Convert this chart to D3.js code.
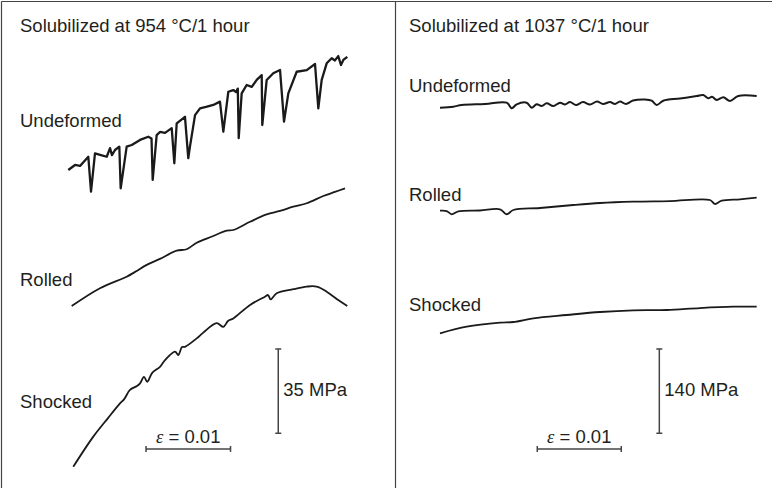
<!DOCTYPE html>
<html>
<head>
<meta charset="utf-8">
<script src="https://cdn.jsdelivr.net/npm/d3@7"></script>
<style>
  body { margin: 0; background: #fff; }
  text { font-family: "Liberation Sans", Arial, sans-serif; fill: #231f20; }
</style>
</head>
<body>
<div id="chart"></div>
<script>
// strain in %, stress in MPa (curves are offset vertically, as in the figure)
let left954Undeformed = [[0.098,128.7],[0.178,130.8],[0.237,130.4],[0.335,134.2],[0.367,119.7],[0.414,135.6],[0.485,134.9],[0.553,134.2],[0.592,137.8],[0.615,134.9],[0.651,137.0],[0.702,138.4],[0.718,121.1],[0.789,138.4],[0.849,139.1],[0.947,141.2],[1.045,142.5],[1.083,141.8],[1.097,124.6],[1.144,143.2],[1.183,144.5],[1.243,144.1],[1.322,146.1],[1.353,131.5],[1.381,148.1],[1.479,150.8],[1.518,133.6],[1.538,138.4],[1.598,151.5],[1.657,154.3],[1.728,154.9],[1.814,155.7],[1.893,157.1],[1.933,144.6],[1.992,161.2],[2.051,161.9],[2.083,161.1],[2.104,162.5],[2.115,141.9],[2.150,160.5],[2.209,164.0],[2.269,163.2],[2.328,166.1],[2.387,168.1],[2.394,147.4],[2.446,166.1],[2.524,168.9],[2.604,170.2],[2.651,148.8],[2.702,160.5],[2.801,169.5],[2.920,170.2],[3.018,172.7],[3.057,154.3],[3.097,166.1],[3.156,173.0],[3.215,175.1],[3.254,174.2],[3.293,176.0],[3.325,172.3],[3.353,174.4],[3.400,175.7]];
let left954Rolled = [[0.138,72.2],[0.473,79.6],[0.789,84.4],[0.888,86.4],[1.026,89.3],[1.183,91.8],[1.381,95.2],[1.499,95.8],[1.618,98.5],[1.799,101.1],[1.973,103.5],[2.051,103.8],[2.249,107.2],[2.446,110.3],[2.604,111.7],[2.761,113.5],[2.920,114.9],[3.116,117.9],[3.254,119.6],[3.373,121.1]];
let left954Shocked = [[0.157,5.5],[0.394,18.0],[0.568,25.7],[0.710,31.8],[0.760,33.6],[0.828,37.4],[0.911,39.0],[0.947,40.1],[0.994,42.8],[1.033,40.8],[1.089,44.4],[1.183,47.0],[1.243,49.8],[1.361,53.3],[1.400,51.9],[1.444,55.2],[1.479,55.3],[1.618,58.8],[1.696,61.2],[1.854,65.1],[1.933,63.6],[1.988,66.0],[2.051,67.1],[2.249,72.7],[2.426,76.1],[2.462,76.8],[2.493,75.0],[2.564,77.5],[2.761,79.2],[2.920,80.3],[3.038,80.3],[3.156,78.2],[3.293,74.7],[3.400,72.2]];

let right1037Undeformed = [[0.119,618.3],[0.277,620.0],[0.377,622.8],[0.655,624.4],[0.913,626.6],[0.973,617.3],[1.032,623.9],[1.151,626.6],[1.211,618.3],[1.270,623.9],[1.330,621.1],[1.389,625.6],[1.468,621.1],[1.548,626.6],[1.607,623.6],[1.667,627.7],[1.738,622.8],[1.821,627.7],[1.905,623.6],[1.988,628.6],[2.060,624.4],[2.143,627.7],[2.202,624.4],[2.262,628.6],[2.333,624.4],[2.417,630.2],[2.560,631.9],[2.639,629.9],[2.699,622.8],[2.777,629.9],[2.976,633.6],[3.175,637.7],[3.254,639.4],[3.313,633.9],[3.357,636.6],[3.413,631.1],[3.492,635.6],[3.571,629.4],[3.670,637.7],[3.889,637.7]];
let right1037Rolled = [[0.119,447.2],[0.199,446.7],[0.258,441.3],[0.337,446.2],[0.595,447.6],[0.833,449.6],[0.913,441.3],[0.992,448.4],[1.310,451.7],[1.706,456.7],[2.024,460.0],[2.420,462.2],[2.857,463.3],[3.333,465.0],[3.393,458.4],[3.473,463.8],[3.690,466.2],[3.889,468.8]];
let right1037Shocked = [[0.119,243.6],[0.437,254.6],[0.833,261.2],[0.992,262.4],[1.230,268.5],[1.627,274.0],[2.024,279.0],[2.420,281.8],[2.818,282.3],[3.214,285.6],[3.611,287.8],[3.889,287.8]];

let panelTitles = ["Solubilized at 954 \u00B0C/1 hour", "Solubilized at 1037 \u00B0C/1 hour"];
let curveNames = ["Undeformed", "Rolled", "Shocked"];
let strainBar = 0.01;
let stressBars = [35, 140];

let width = 772;
let height = 488;

let svg = d3.select("#chart")
	.append("svg")
	.attr("width", width).attr("height", height);

// frame
svg.append("line").attr("x1", 1.5).attr("x2", width).attr("y1", 1.5).attr("y2", 1.5)
	.attr("stroke", "#444").attr("stroke-width", 1.2);
svg.append("line").attr("x1", 1.5).attr("x2", 1.5).attr("y1", 1.5).attr("y2", height)
	.attr("stroke", "#444").attr("stroke-width", 1.2);
svg.append("line").attr("x1", 395.5).attr("x2", 395.5).attr("y1", 1.5).attr("y2", height)
	.attr("stroke", "#444").attr("stroke-width", 1.2);

let panels = [
	{
		title: panelTitles[0], tx: 20,
		curves: [left954Undeformed, left954Rolled, left954Shocked],
		widths: [2.3, 1.8, 1.8],
		smooth: [false, true, true],
		labelY: [127, 286, 408], labelX: 20,
		x: d3.scaleLinear().domain([0, 1]).range([60, 144.5]),
		y: d3.scaleLinear().domain([0, stressBars[0]]).range([480, 480 - 84.3]),
		stressBar: stressBars[0], vBar: [2.583, 19.4], hBar: [1.018, 12.9]
	},
	{
		title: panelTitles[1], tx: 409,
		curves: [right1037Undeformed, right1037Rolled, right1037Shocked],
		widths: [2.0, 1.8, 1.8],
		smooth: [true, true, true],
		labelY: [92, 201, 311], labelX: 409,
		x: d3.scaleLinear().domain([0, 1]).range([430, 514]),
		y: d3.scaleLinear().domain([0, stressBars[1]]).range([480, 480 - 84.3]),
		stressBar: stressBars[1], vBar: [2.730, 77.6], hBar: [1.277, 51.5]
	}
];

panels.forEach(function(p) {
	let g = svg.append("g");
	g.append("text").attr("x", p.tx).attr("y", 31.5)
		.attr("font-size", 18.5).text(p.title);

	let line = d3.line().x(d => p.x(d[0])).y(d => p.y(d[1]));
	let smoothLine = d3.line().x(d => p.x(d[0])).y(d => p.y(d[1])).curve(d3.curveCatmullRom.alpha(0.5));

	g.selectAll(".curve").data(p.curves)
		.join("path")
		.attr("class", "curve")
		.attr("d", (d, i) => p.smooth[i] ? smoothLine(d) : line(d))
		.attr("fill", "none")
		.attr("stroke", "#1a1a1a")
		.attr("stroke-width", (d, i) => p.widths[i])
		.attr("stroke-linejoin", "round");

	g.selectAll(".name").data(curveNames)
		.join("text")
		.attr("class", "name")
		.attr("x", p.labelX)
		.attr("y", (d, i) => p.labelY[i])
		.attr("font-size", 18.5)
		.text(d => d);

	// stress scale bar
	let vx = p.x(p.vBar[0]);
	let vy0 = p.y(p.vBar[1]);
	let vy1 = p.y(p.vBar[1] + p.stressBar);
	let bar = g.append("g").attr("stroke", "#444").attr("stroke-width", 1.5);
	bar.append("line").attr("x1", vx).attr("x2", vx).attr("y1", vy0).attr("y2", vy1);
	bar.append("line").attr("x1", vx - 3).attr("x2", vx + 3).attr("y1", vy0).attr("y2", vy0);
	bar.append("line").attr("x1", vx - 3).attr("x2", vx + 3).attr("y1", vy1).attr("y2", vy1);
	g.append("text").attr("x", vx + 5).attr("y", 396)
		.attr("font-size", 18.5).text(p.stressBar + " MPa");

	// strain scale bar
	let hx0 = p.x(p.hBar[0]);
	let hx1 = p.x(p.hBar[0] + strainBar * 100);
	let hy = p.y(p.hBar[1]);
	bar.append("line").attr("x1", hx0).attr("x2", hx1).attr("y1", hy).attr("y2", hy);
	bar.append("line").attr("x1", hx0).attr("x2", hx0).attr("y1", hy - 3).attr("y2", hy + 3);
	bar.append("line").attr("x1", hx1).attr("x2", hx1).attr("y1", hy - 3).attr("y2", hy + 3);
	let lab = g.append("text").attr("x", (hx0 + hx1) / 2).attr("y", 442.5)
		.attr("text-anchor", "middle").attr("font-size", 18.5);
	lab.append("tspan").attr("font-family", "'Liberation Serif', serif").attr("font-style", "italic").text("\u03B5");
	lab.append("tspan").text(" = " + strainBar);
});
</script>
</body>
</html>
